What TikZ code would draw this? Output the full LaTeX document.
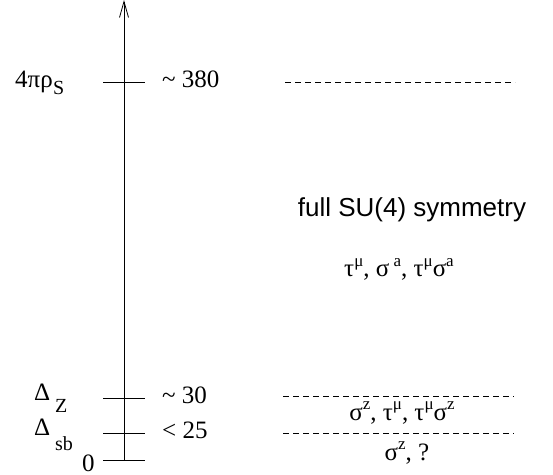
\documentclass[tikz,border=0pt]{standalone}
\usepackage{fontspec}
\setmainfont{Liberation Serif}
\newfontfamily\helv{Liberation Sans}
\usetikzlibrary{arrows.meta}
\newcommand{\supx}[1]{\raisebox{0.42em}{\fontsize{17}{17}\selectfont #1}}
\begin{document}
\begin{tikzpicture}[x=1pt,y=1pt,
  lbl/.style={inner sep=0pt,anchor=base west,font=\fontsize{25}{30}\selectfont},
  rlbl/.style={inner sep=0pt,anchor=base,font=\fontsize{25}{30}\selectfont},
  subl/.style={inner sep=0pt,anchor=base west,font=\fontsize{20}{24}\selectfont},
  tick/.style={line width=0.8pt},
  level/.style={line width=0.7pt,dash pattern=on 6pt off 4pt},
  axisline/.style={line width=0.8pt,-{Straight Barb[length=16pt,width=9pt,line width=0.8pt]}}]
\useasboundingbox (0,0) rectangle (553,474);
% axis
\coordinate (bot) at (124,14);
\coordinate (top) at (124,474);
\draw[axisline] (bot) -- (top);
% ticks
\coordinate (a1) at (103,392); \coordinate (b1) at (145,392);
\coordinate (a2) at (103,76);  \coordinate (b2) at (145,76);
\coordinate (a3) at (103,41);  \coordinate (b3) at (145,41);
\coordinate (a4) at (103,14);  \coordinate (b4) at (145,14);
\draw[tick] (a1) -- (b1);
\draw[tick] (a2) -- (b2);
\draw[tick] (a3) -- (b3);
\draw[tick] (a4) -- (b4);
% values
\node[lbl] (v380) at (162,386) {\char"7E\ 380};
\node[lbl] (v30) at (162,71) {\char"7E\ 30};
\node[lbl] (v25) at (162,36) {< 25};
% left labels
\node[lbl] (rho) at (15,386) {4πρ};
\node[subl] (rhoS) at (rho.base east) [yshift=-7pt] {S};
\node[lbl] (dZ) at (34,74) {Δ};
\node[subl] (dZs) at (55,62) {Z};
\node[lbl] (dsb) at (34,39) {Δ};
\node[subl] (dsbs) at (55,24) {sb};
\node[lbl] (zero) at (82,3) {0};
% dashed levels
\coordinate (l1a) at (285,392); \coordinate (l1b) at (515,392);
\coordinate (l2a) at (283,78);  \coordinate (l2b) at (514,78);
\coordinate (l3a) at (283,41);  \coordinate (l3b) at (514,41);
\draw[level] (l1a) -- (l1b);
\draw[level] (l2a) -- (l2b);
\draw[level] (l3a) -- (l3b);
% right texts
\node[rlbl,font=\helv\fontsize{26}{30}\selectfont] (full) at (412,257) {full SU(4) symmetry};
\node[rlbl] (gens) at (399,197) {τ\supx{μ}, σ\,\supx{a}, τ\supx{μ}σ\supx{a}};
\node[rlbl] (zgens) at (402,54) {σ\supx{z}, τ\supx{μ}, τ\supx{μ}σ\supx{z}};
\node[rlbl] (sb) at (407,14) {σ\supx{z}, ?};
\end{tikzpicture}
\end{document}
